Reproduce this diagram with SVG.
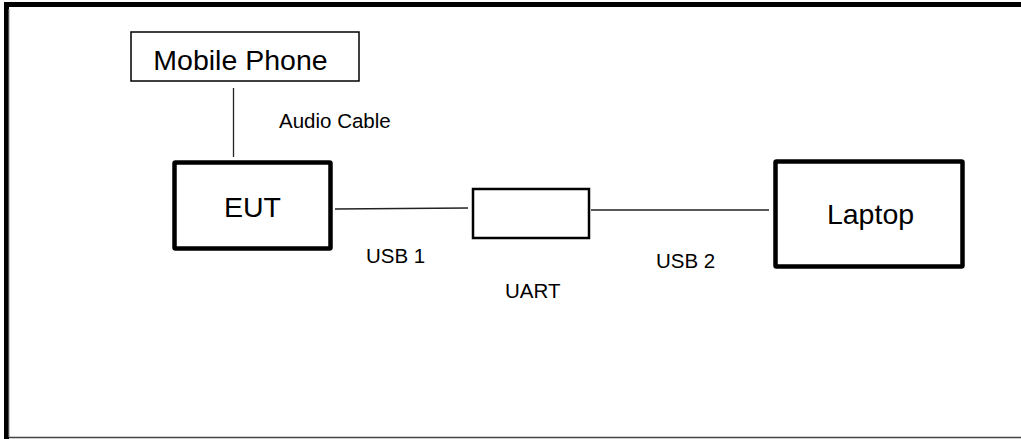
<svg xmlns="http://www.w3.org/2000/svg" width="1021" height="439" viewBox="0 0 1021 439">
<style>
text{font-family:"Liberation Sans",Arial,sans-serif;fill:#000}
.big{font-size:28.5px}
.lbl{font-size:20.5px}
.thin{fill:#fff;stroke:#000;stroke-width:1.5}
.thick{fill:#fff;stroke:#000;stroke-width:4.5}
.mid{fill:#fff;stroke:#000;stroke-width:2.5}
.conn{stroke:#222;stroke-width:1.3;fill:none}
</style>
<rect width="1021" height="439" fill="#fff"/>
<g id="frame">
<line x1="6.5" y1="2" x2="6.5" y2="439" stroke="#000" stroke-width="5"/>
<line x1="4" y1="4.5" x2="1021" y2="4.5" stroke="#000" stroke-width="5"/>
<line x1="9" y1="9" x2="9" y2="437" stroke="#999" stroke-width="1"/>
<line x1="9" y1="437.5" x2="1021" y2="437.5" stroke="#444" stroke-width="1.6"/>
</g>
<g id="connectors">
<line class="conn" x1="233.5" y1="88" x2="233.5" y2="157"/>
<line class="conn" x1="335" y1="209" x2="468" y2="208"/>
<line class="conn" x1="591" y1="210" x2="769" y2="210"/>
</g>
<g id="mobile-phone">
<rect class="thin" x="131" y="32" width="228" height="49"/>
<text class="big" x="240.5" y="70" text-anchor="middle">Mobile Phone</text>
</g>
<g id="eut">
<rect class="thick" x="174.5" y="162.5" width="156" height="86" rx="1"/>
<text class="big" x="252.5" y="217" text-anchor="middle">EUT</text>
</g>
<g id="uart">
<rect class="mid" x="473" y="189" width="116" height="49"/>
</g>
<g id="laptop">
<rect class="thick" x="775.5" y="161.5" width="187" height="105" rx="1"/>
<text class="big" x="870.5" y="224" text-anchor="middle">Laptop</text>
</g>
<g id="labels">
<text class="lbl" x="279" y="128">Audio Cable</text>
<text class="lbl" x="366" y="263">USB 1</text>
<text class="lbl" x="505" y="298">UART</text>
<text class="lbl" x="656" y="268">USB 2</text>
</g>
</svg>
